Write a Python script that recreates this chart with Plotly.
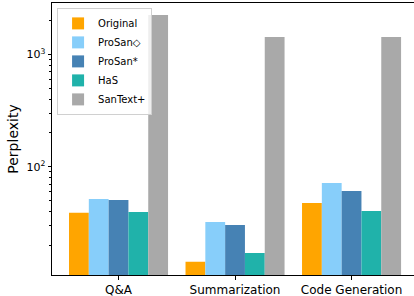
import plotly.graph_objects as go

categories = ["Q&A", "Summarization", "Code Generation"]
series_names = ["Original", "ProSan◇", "ProSan*", "HaS", "SanText+"]
original = [38.9, 14.2, 47.4]
prosan_d = [51.5, 32.1, 71.6]
prosan_s = [50.5, 30.2, 60.7]
has = [39.5, 17.0, 40.3]
santext = [2250, 1432, 1432]
colors = ["#FFA500", "#87CEFA", "#4682B4", "#20B2AA", "#A9A9A9"]

values = [original, prosan_d, prosan_s, has, santext]
x = list(range(len(categories)))

fig = go.Figure()
for name, vals, c in zip(series_names, values, colors):
    fig.add_trace(go.Bar(x=x, y=vals, name=name, marker=dict(color=c, line=dict(width=0))))

minor_vals = [m * 10 ** d for d in range(1, 4) for m in range(2, 10)]

fig.update_layout(
    width=414, height=296,
    margin=dict(l=52, r=0, t=3, b=21, autoexpand=False),
    plot_bgcolor="white", paper_bgcolor="white",
    barmode="group", bargap=0.15, bargroupgap=0,
    font=dict(family="DejaVu Sans", color="black"),
    legend=dict(x=0.014, y=0.982, xanchor="left", yanchor="top",
                bordercolor="#d0d0d0", borderwidth=1, bgcolor="rgba(255,255,255,0.8)",
                font=dict(size=10), tracegroupgap=0, itemwidth=30),
    xaxis=dict(range=[-0.571, 2.536], tickvals=x, ticktext=categories,
               ticks="outside", ticklen=3.5, tickcolor="black",
               showline=True, linecolor="black", linewidth=1, mirror=True,
               showgrid=False, zeroline=False, tickfont=dict(size=12)),
    yaxis=dict(type="log", range=[1.035, 3.459],
               tickvals=[100, 1000], ticktext=["10<sup>2</sup>", "10<sup>3</sup>"],
               ticks="outside", ticklen=3.5, tickcolor="black",
               minor=dict(tickvals=minor_vals, ticks="outside", ticklen=2, tickcolor="black", showgrid=False),
               showline=True, linecolor="black", linewidth=1,
               showgrid=False, zeroline=False, tickfont=dict(size=11),
               title=dict(text="Perplexity", font=dict(size=14), standoff=4)),
)

fig.write_html("out.html", config={"displayModeBar": False},
               post_script="document.body.style.margin='0';document.body.style.padding='0';")
